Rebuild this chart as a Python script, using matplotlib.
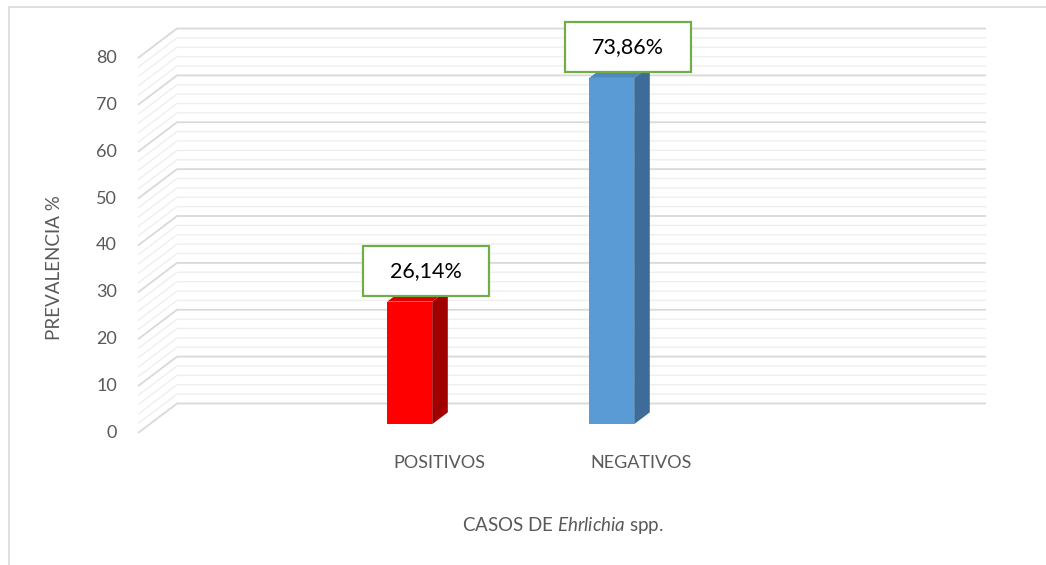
import matplotlib.pyplot as plt
from matplotlib.patches import Polygon, Rectangle
from matplotlib.lines import Line2D
import numpy as np

plt.rcParams['font.family'] = ['Lato', 'DejaVu Sans']
plt.rcParams['mathtext.fontset'] = 'custom'
plt.rcParams['mathtext.rm'] = 'Lato'
plt.rcParams['mathtext.it'] = 'Lato:italic'

# datos
categorias = ['POSITIVOS', 'NEGATIVOS']
prevalencia = [26.14, 73.86]
etiquetas = ['26,14%', '73,86%']
ticks_y = [0, 10, 20, 30, 40, 50, 60, 70, 80]
colores = [('#ff0000', '#a00000', '#dc0000'), ('#5b9bd5', '#3d6c98', '#4f88bd')]

# escala: 202 px por categoria, 4.6875 px por unidad
PXX = 1 / 202
PXY = 1 / 4.6875
DX = 39 * PXX      # profundidad (pared de fondo)
DY = 29.5 * PXY

fig = plt.figure(figsize=(10.46, 5.65), dpi=100)
ax = fig.add_axes([0, 0, 1, 1])
ax.set_xlim(-398 * PXX, (1046 - 398) * PXX)
ax.set_ylim(-132 * PXY, 433 * PXY)
ax.axis('off')


def p(x, v, d):
    return (x + d * DX, v + d * DY)


# rejilla 3D (pared lateral + fondo)
x_izq = -260 * PXX
x_der = 549 * PXX
for v in np.arange(0, 81, 2):
    mayor = v % 10 == 0
    pts = [p(x_izq, v, 0), p(x_izq, v, 1), p(x_der, v, 1)]
    ax.plot([q[0] for q in pts], [q[1] for q in pts],
            color='#d9d9d9' if mayor else '#efefef',
            lw=1.3 if mayor else 1.0, zorder=1, solid_capstyle='butt')

for t in ticks_y:
    ax.text(x_izq - 21 * PXX, t, str(t), ha='right', va='center',
            fontsize=13, color='#595959')

# barras 3D
hw = 22.5 * PXX
d0, d1 = 0.3, 0.7
for i, v in enumerate(prevalencia):
    c_fr, c_lado, c_top = colores[i]
    frente = [p(i - hw, 0, d0), p(i + hw, 0, d0), p(i + hw, v, d0), p(i - hw, v, d0)]
    lado = [p(i + hw, 0, d0), p(i + hw, 0, d1), p(i + hw, v, d1), p(i + hw, v, d0)]
    top = [p(i - hw, v, d0), p(i + hw, v, d0), p(i + hw, v, d1), p(i - hw, v, d1)]
    ax.add_patch(Polygon(lado, closed=True, fc=c_lado, ec='none', zorder=3))
    ax.add_patch(Polygon(top, closed=True, fc=c_top, ec='none', zorder=3))
    ax.add_patch(Polygon(frente, closed=True, fc=c_fr, ec='none', zorder=4))

    # etiqueta de datos
    cx = i + d0 * DX + 16 * PXX
    cy = v + d0 * DY + 31 * PXY
    w, h = 126 * PXX, 50 * PXY
    ax.add_patch(Rectangle((cx - w / 2, cy - h / 2), w, h, fc='white',
                           ec='#70ad47', lw=1.6, zorder=5))
    ax.text(cx, cy, etiquetas[i], ha='center', va='center', fontsize=15.5,
            color='black', zorder=6)

    # categoria
    ax.text(i + 0.205, -30 * PXY, categorias[i], ha='center', va='center',
            fontsize=13, color='#595959')

ax.text(165 * PXX, -92 * PXY, 'CASOS DE $\\it{Ehrlichia}$ spp.', ha='center',
        va='center', fontsize=13.5, color='#595959')
ax.text(-343 * PXX, 165 * PXY, 'PREVALENCIA %', rotation=90, ha='center',
        va='center', fontsize=13.5, color='#595959')

# borde del area del grafico
fig.add_artist(Line2D([9 / 1046, 9 / 1046, 1], [0, 1 - 7 / 565, 1 - 7 / 565],
                      color='#d9d9d9', lw=1.2))

fig.savefig('out.png', dpi=100, facecolor='white')
